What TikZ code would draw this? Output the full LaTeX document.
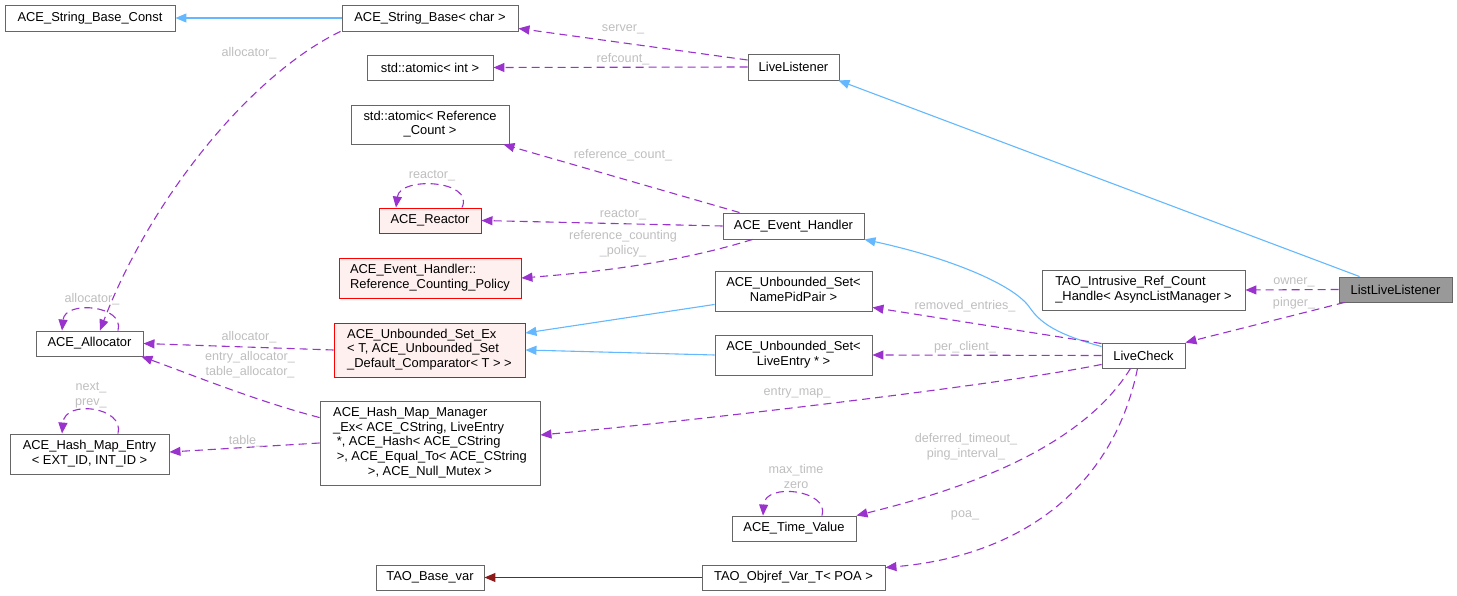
\documentclass[tikz,border=0pt]{standalone}
\usepackage{fontspec}
\setmainfont{Liberation Sans}
\usetikzlibrary{arrows.meta,calc}
\definecolor{edgepurple}{HTML}{9A32CD}
\definecolor{edgeblue}{HTML}{63B8FF}
\definecolor{edgered}{HTML}{8B1A1A}
\definecolor{boxgray}{HTML}{666666}
\definecolor{lblgray}{HTML}{BEBEBE}
\definecolor{redfill}{HTML}{FFF0F0}
\definecolor{selfill}{HTML}{999999}
\newcommand{\nodefont}{\fontsize{12.9}{14.7}\selectfont}
\newcommand{\lblfont}{\fontsize{12.6}{14.7}\selectfont}
\newcommand{\ctrline}[1]{\multicolumn{1}{@{}c@{}}{#1}}
\newcommand{\mltb}[1]{\begin{tabular}{@{}l@{}}#1\end{tabular}}
\tikzset{
  cls/.style={draw=boxgray, fill=white, line width=0.9pt, inner sep=0pt, font=\nodefont, text=black, rectangle},
  redcls/.style={cls, draw=red, fill=redfill},
  selcls/.style={cls, fill=selfill},
  lbl/.style={font=\lblfont, text=lblgray, inner sep=0pt, align=center},
  usage/.style={draw=edgepurple, line width=1.1pt, dash pattern=on 8pt off 5pt, -{Triangle[length=11pt,width=9pt]}},
  inherit/.style={draw=edgeblue, line width=1.1pt, -{Triangle[length=11pt,width=9pt]}},
  tmpl/.style={draw=edgered, line width=1.1pt, -{Triangle[length=11pt,width=9pt]}}
}
\begin{document}
\begin{tikzpicture}[x=1pt,y=-1pt]
\useasboundingbox (0,0) rectangle (1457,596);
% nodes
\node[cls, minimum width=170pt, minimum height=26pt] (constb) at (90,18) {ACE\_String\_Base\_Const};
\node[cls, minimum width=176pt, minimum height=26pt] (strb) at (430,18) {ACE\_String\_Base< char >};
\node[cls, minimum width=126pt, minimum height=25pt] (atomint) at (430,67.5) {std::atomic< int >};
\node[cls, minimum width=158pt, minimum height=39pt] (atomref) at (430,124.5) {\mltb{std::atomic< Reference\\ \ctrline{\_Count >}}};
\node[redcls, minimum width=102pt, minimum height=25pt] (reactor) at (430,220.5) {ACE\_Reactor};
\node[redcls, minimum width=182pt, minimum height=40pt] (rcpol) at (430,278) {\mltb{ACE\_Event\_Handler::\\ Reference\_Counting\_Policy}};
\node[cls, minimum width=107pt, minimum height=25pt] (alloc) at (89.5,343.5) {ACE\_Allocator};
\node[redcls, minimum width=191pt, minimum height=54pt] (usetex) at (429.5,350) {\mltb{ACE\_Unbounded\_Set\_Ex\\ < T, ACE\_Unbounded\_Set\\ \ctrline{\_Default\_Comparator< T > >}}};
\node[cls, minimum width=159pt, minimum height=40pt] (hme) at (89.5,454) {\mltb{ACE\_Hash\_Map\_Entry\\ \ctrline{< EXT\_ID, INT\_ID >}}};
\node[cls, minimum width=220pt, minimum height=84pt] (hmm) at (430,443) {\mltb{ACE\_Hash\_Map\_Manager\\ \_Ex< ACE\_CString, LiveEntry\\ \ *, ACE\_Hash< ACE\_CString\\ \ >, ACE\_Equal\_To< ACE\_CString\\ \ctrline{>, ACE\_Null\_Mutex >}}};
\node[cls, minimum width=108pt, minimum height=25pt] (basevar) at (430,577.5) {TAO\_Base\_var};
\node[cls, minimum width=91pt, minimum height=26pt] (livel) at (793.5,67) {LiveListener};
\node[cls, minimum width=141pt, minimum height=26pt] (evh) at (793.5,226) {ACE\_Event\_Handler};
\node[cls, minimum width=157pt, minimum height=40pt] (usnp) at (793.5,291) {\mltb{ACE\_Unbounded\_Set<\\ \ctrline{NamePidPair >}}};
\node[cls, minimum width=157pt, minimum height=40pt] (usle) at (793.5,355) {\mltb{ACE\_Unbounded\_Set<\\ \ctrline{LiveEntry * >}}};
\node[cls, minimum width=124pt, minimum height=25pt] (timev) at (794,528.5) {ACE\_Time\_Value};
\node[cls, minimum width=183pt, minimum height=25pt] (objref) at (793.5,577.5) {TAO\_Objref\_Var\_T< POA >};
\node[cls, minimum width=203pt, minimum height=40pt] (intru) at (1143.5,290) {\mltb{TAO\_Intrusive\_Ref\_Count\\ \_Handle< AsyncListManager >}};
\node[selcls, minimum width=113pt, minimum height=25pt] (lll) at (1395.5,289.5) {ListLiveListener};
\node[cls, minimum width=83pt, minimum height=25pt] (livec) at (1143.5,355.5) {LiveCheck};
% edges
\draw[inherit] (strb.west) -- (constb.east);
\draw[usage] ($(livel.west)+(0,-7)$) -- ($(strb.south east)+(0,-3)$);
\draw[usage] (livel.west) -- (atomint.east);
\draw[usage] ($(evh.north west)+(17,0)$) -- ($(atomref.south east)+(-6,0)$);
\draw[usage] (evh.west) -- (reactor.east);
\draw[usage] ($(reactor.north)+(32,0)$) .. controls (475,180) and (400,176) .. ($(reactor.north)+(-34,0)$);
\draw[usage] ($(evh.south west)+(30,0)$) .. controls (680,262) and (600,272) .. (rcpol.east);
\draw[inherit] ($(lll.north west)+(21,0)$) -- ($(livel.south east)+(-1,0)$);
\draw[inherit] ($(livec.north west)+(0,4)$) .. controls (1060,335) and (1042,325) .. (1030,308) .. controls (1015,285) and (950,258) .. (evh.south east);
\draw[inherit] ($(usnp.south west)+(0,-7)$) -- ($(usetex.east)+(0,-17)$);
\draw[inherit] (usle.west) -- (usetex.east);
\draw[usage] (lll.west) -- (intru.east);
\draw[usage] ($(lll.south west)+(6,0)$) -- (livec.north east);
\draw[usage] ($(livec.north west)+(0,1)$) -- ($(usnp.south east)+(0,-4)$);
\draw[usage] (livec.west) -- (usle.east);
\draw[usage] ($(livec.south west)+(0,-4)$) .. controls (1000,385) and (700,420) .. ($(hmm.east)+(0,-8)$);
\draw[usage] ($(livec.south)+(-13,0)$) .. controls (1080,450) and (960,490) .. (timev.north east);
\draw[usage] ($(livec.south)+(-6,0)$) .. controls (1115,480) and (1030,555) .. ($(objref.north east)+(0,3)$);
\draw[usage] ($(timev.north)+(28,0)$) .. controls (830,490) and (765,482) .. ($(timev.north)+(-31,0)$);
\draw[tmpl] (objref.west) -- (basevar.east);
\draw[usage] ($(strb.south west)+(-1,0)$) .. controls (250,75) and (150,200) .. ($(alloc.north)+(10.5,0)$);
\draw[usage] ($(alloc.north)+(28.5,0)$) .. controls (125,305) and (65,300) .. ($(alloc.north)+(-27.5,0)$);
\draw[usage] (usetex.west) -- (alloc.east);
\draw[usage] ($(hmm.north west)+(0,17)$) .. controls (260,402) and (200,378) .. ($(alloc.south east)+(-2,0)$);
\draw[usage] (hmm.west) -- ($(hme.east)+(0,-2)$);
\draw[usage] ($(hme.north)+(28.5,0)$) .. controls (125,407) and (65,399) .. ($(hme.north)+(-27.5,0)$);
% labels
\node[lbl] (lserver) at (623,29) {server\_};
\node[lbl] (lrefc) at (623,59) {refcount\_};
\node[lbl] (lrefcount) at (623,155) {reference\_count\_};
\node[lbl] (lreactor) at (623,215) {reactor\_};
\node[lbl] (lreactorself) at (432,176) {reactor\_};
\node[lbl] (lrcp) at (623,244) {reference\_counting\\\_policy\_};
\node[lbl] (lallocup) at (249,53) {allocator\_};
\node[lbl] (lallocself) at (92,299) {allocator\_};
\node[lbl] (lallocmid) at (249,337) {allocator\_};
\node[lbl] (lentryalloc) at (250,365) {entry\_allocator\_\\table\_allocator\_};
\node[lbl] (lnext) at (91,395) {next\_\\prev\_};
\node[lbl] (ltable) at (246,441) {table\_};
\node[lbl] (lowner) at (1294,282) {owner\_};
\node[lbl] (lpinger) at (1294,303) {pinger\_};
\node[lbl] (lremoved) at (965,306) {removed\_entries\_};
\node[lbl] (lperclient) at (965,347) {per\_client\_};
\node[lbl] (lentrymap) at (797,393) {entry\_map\_};
\node[lbl] (ldeferred) at (966,446.5) {deferred\_timeout\_\\ping\_interval\_};
\node[lbl] (lmaxtime) at (796,476.5) {max\_time\\zero};
\node[lbl] (lpoa) at (965,515) {poa\_};
\end{tikzpicture}
\end{document}
